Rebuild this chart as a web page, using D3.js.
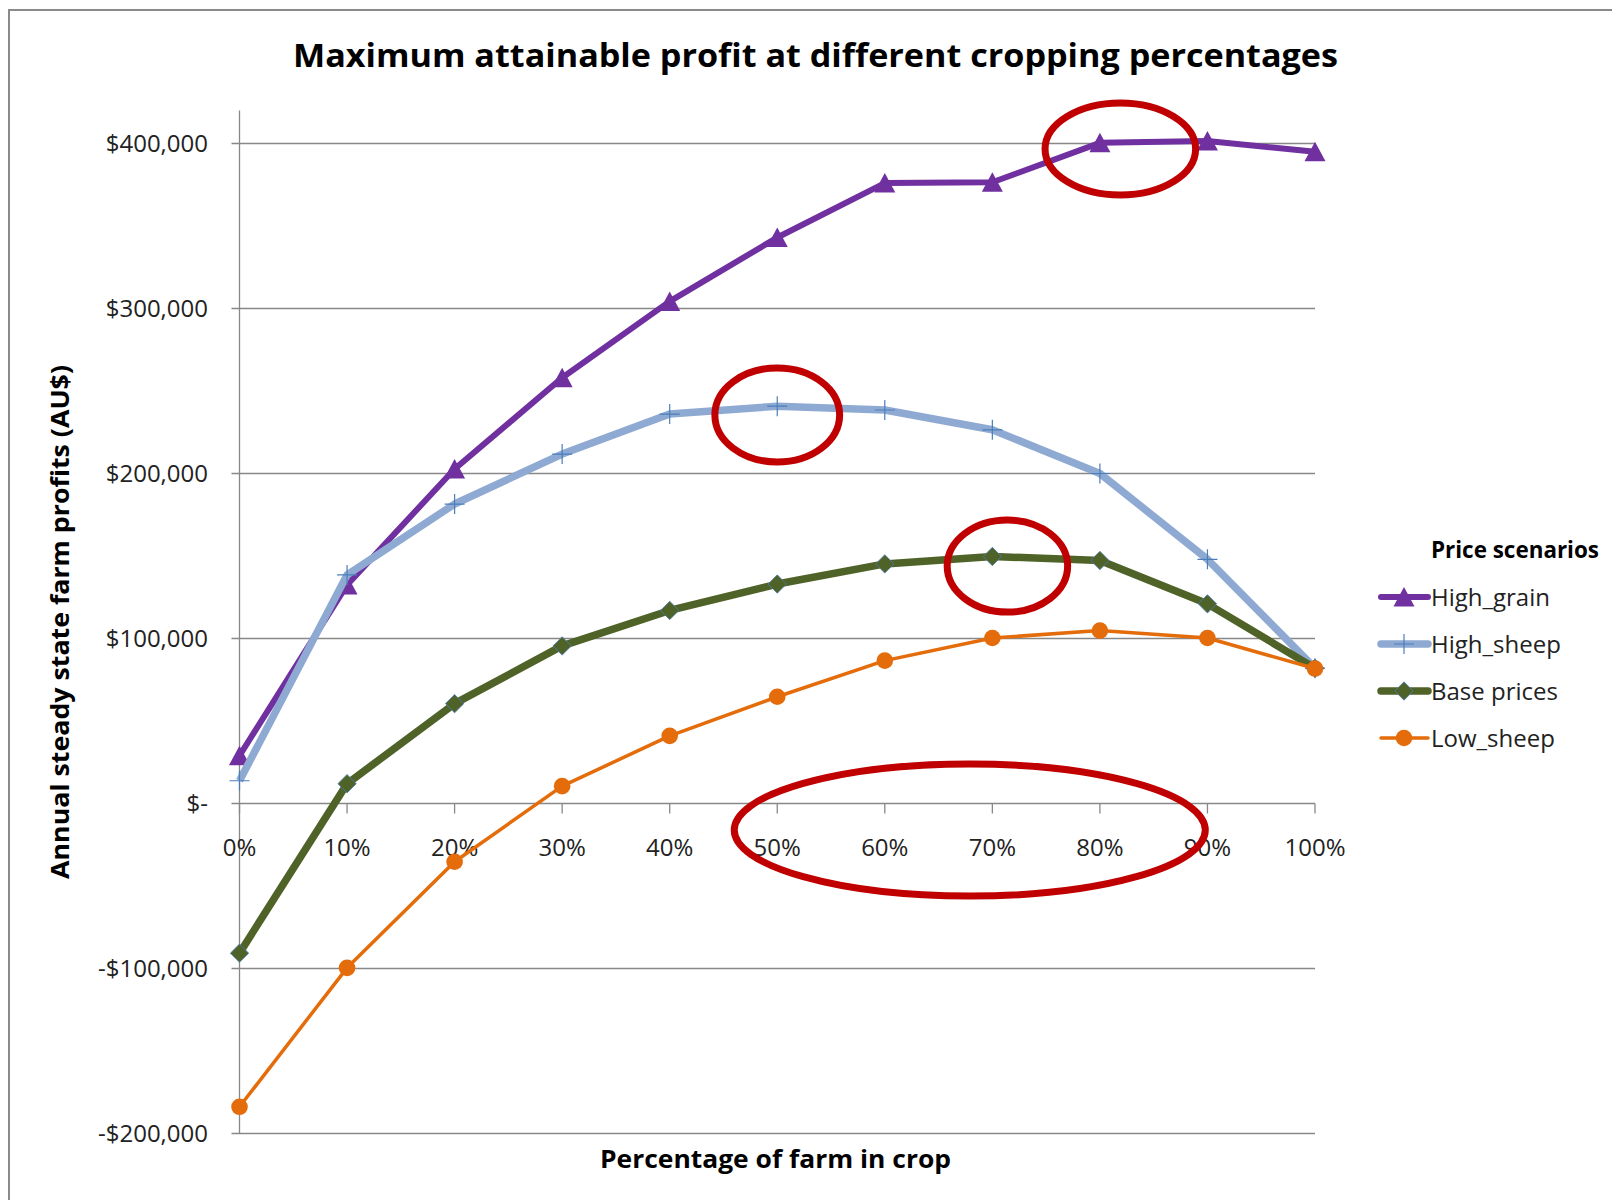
<!DOCTYPE html>
<html>
<head>
<meta charset="utf-8">
<script src="https://cdn.jsdelivr.net/npm/d3@7"></script>
<style>
  html, body { margin: 0; padding: 0; background: #fff; }
  svg { display: block; font-family: "Open Sans", "Noto Sans", sans-serif; }
</style>
</head>
<body>
<div id="chart"></div>
<script>
// chart data
var cropPct = [0, 10, 20, 30, 40, 50, 60, 70, 80, 90, 100];
var xTickLabels = ["0%", "10%", "20%", "30%", "40%", "50%", "60%", "70%", "80%", "90%", "100%"];
var yTicks = [-200000, -100000, 0, 100000, 200000, 300000, 400000];
var yTickLabels = ["-$200,000", "-$100,000", "$-", "$100,000", "$200,000", "$300,000", "$400,000"];

var highGrain = [29000, 132500, 202700, 258000, 304300, 343000, 376000, 376500, 400400, 401500, 395000];
var highSheep = [13800, 138500, 181500, 211800, 236000, 240800, 238500, 226500, 200000, 148000, 82000];
var basePrices = [-90700, 12000, 60500, 95500, 117000, 133000, 145200, 149700, 147300, 121000, 82000];
var lowSheep = [-183800, -99600, -35300, 10500, 41000, 64700, 86600, 100300, 104800, 100300, 81800];

var seriesNames = ["High_grain", "High_sheep", "Base prices", "Low_sheep"];

// hand-drawn red rings, in data units (x in %, y in $)
var ringX = [81.9, 50.0, 71.4, 67.9];
var ringY = [396700, 235500, 143900, -16100];
var ringRx = [7.0, 5.8, 5.6, 21.9];
var ringRy = [27900, 28500, 27900, 40000];

var W = 1612, H = 1200;
var svg = d3.select("#chart").append("svg").attr("width", W).attr("height", H);

// outer chart frame
svg.append("rect").attr("x", 9).attr("y", 10).attr("width", 1700).attr("height", 1300)
  .attr("fill", "#fff").attr("stroke", "#8a8a8a").attr("stroke-width", 2);

var x = d3.scaleLinear().domain([0, 100]).range([239.5, 1315]);
var y = d3.scaleLinear().domain([-200000, 420000]).range([1133.5, 110.5]);

// gridlines
svg.append("g").selectAll("line").data(yTicks).enter().append("line")
  .attr("x1", x(0) - 8).attr("x2", x(100))
  .attr("y1", function(d){ return y(d) }).attr("y2", function(d){ return y(d) })
  .attr("stroke", "#888").attr("stroke-width", 1.3);

// y axis line
svg.append("line").attr("x1", x(0)).attr("x2", x(0)).attr("y1", y(420000)).attr("y2", y(-200000))
  .attr("stroke", "#888").attr("stroke-width", 1.3);

// x ticks on zero line
svg.append("g").selectAll("line").data(cropPct).enter().append("line")
  .attr("x1", function(d){ return x(d) }).attr("x2", function(d){ return x(d) })
  .attr("y1", y(0)).attr("y2", y(0) + 10)
  .attr("stroke", "#888").attr("stroke-width", 1.3);

// y tick labels
svg.append("g").selectAll("text").data(yTicks).enter().append("text")
  .attr("x", 208).attr("y", function(d){ return y(d) + 8.5 })
  .attr("text-anchor", "end").style("font-size", "24px").attr("fill", "#222")
  .text(function(d, i){ return yTickLabels[i] });

// x tick labels
svg.append("g").selectAll("text").data(cropPct).enter().append("text")
  .attr("x", function(d){ return x(d) }).attr("y", 856)
  .attr("text-anchor", "middle").style("font-size", "24px").attr("fill", "#222")
  .text(function(d, i){ return xTickLabels[i] });

var styles = [
  { color: "#7030a0", width: 6, marker: "triangle" },
  { color: "#8faad2", width: 7.5, marker: "plus" },
  { color: "#4f6228", width: 7.5, marker: "diamond" },
  { color: "#e46c0a", width: 3.5, marker: "circle" }
];
var allSeries = [highGrain, highSheep, basePrices, lowSheep];

function drawMarker(g, kind, color) {
  if (kind == "triangle") {
    g.append("path").attr("d", "M0,-10L10.5,9.5L-10.5,9.5Z").attr("fill", color);
  } else if (kind == "plus") {
    g.append("path").attr("d", "M-10,0H10M0,-10V10").attr("stroke", "#4a7ebb").attr("stroke-width", 1.2).attr("fill", "none");
  } else if (kind == "diamond") {
    g.append("path").attr("d", d3.symbol().type(d3.symbolDiamond2).size(215)()).attr("fill", color)
      .attr("stroke", "#4a7ebb").attr("stroke-width", 0.8);
  } else {
    g.append("circle").attr("r", 8.3).attr("fill", color);
  }
}

var line = d3.line().x(function(d){ return x(d[0]) }).y(function(d){ return y(d[1]) });

allSeries.forEach(function(vals, si) {
  var st = styles[si];
  var pts = cropPct.map(function(p, i){ return [p, vals[i]] });
  svg.append("path").datum(pts).attr("d", line).attr("fill", "none")
    .attr("stroke", st.color).attr("stroke-width", st.width).attr("stroke-linejoin", "round");
  pts.forEach(function(p) {
    var g = svg.append("g").attr("transform", "translate(" + x(p[0]) + "," + y(p[1]) + ")");
    drawMarker(g, st.marker, st.color);
  });
});

// red rings
ringX.forEach(function(cx, i) {
  svg.append("ellipse")
    .attr("cx", x(cx)).attr("cy", y(ringY[i]))
    .attr("rx", x(ringRx[i]) - x(0)).attr("ry", y(0) - y(ringRy[i]))
    .attr("fill", "none").attr("stroke", "#c00000").attr("stroke-width", 7);
});

// titles
function fitText(sel, w) {
  sel.attr("textLength", w).attr("lengthAdjust", "spacingAndGlyphs");
}
fitText(svg.append("text").attr("x", 815.5).attr("y", 66.7).attr("text-anchor", "middle")
  .style("font-size", "33px").style("font-weight", "bold").attr("fill", "#000")
  .text("Maximum attainable profit at different cropping percentages"), 1045);

fitText(svg.append("text").attr("x", 775.5).attr("y", 1168).attr("text-anchor", "middle")
  .style("font-size", "25px").style("font-weight", "bold").attr("fill", "#000")
  .text("Percentage of farm in crop"), 351);

fitText(svg.append("text").attr("transform", "translate(69,622) rotate(-90)").attr("text-anchor", "middle")
  .style("font-size", "25px").style("font-weight", "bold").attr("fill", "#000")
  .text("Annual steady state farm profits (AU$)"), 514);

// legend
var lg = svg.append("g");
fitText(lg.append("text").attr("x", 1431).attr("y", 558).style("font-size", "24px")
  .style("font-weight", "bold").attr("fill", "#000").text("Price scenarios"), 168);
var legY = [597, 644, 691, 738];
seriesNames.forEach(function(name, i) {
  var st = styles[i];
  lg.append("line").attr("x1", 1381).attr("x2", 1428).attr("y1", legY[i]).attr("y2", legY[i])
    .attr("stroke", st.color).attr("stroke-width", st.width).attr("stroke-linecap", "round");
  var g = lg.append("g").attr("transform", "translate(1404," + legY[i] + ")");
  drawMarker(g, st.marker, st.color);
  lg.append("text").attr("x", 1431).attr("y", legY[i] + 8.5).style("font-size", "24px")
    .attr("fill", "#222").text(name);
});
</script>
</body>
</html>
